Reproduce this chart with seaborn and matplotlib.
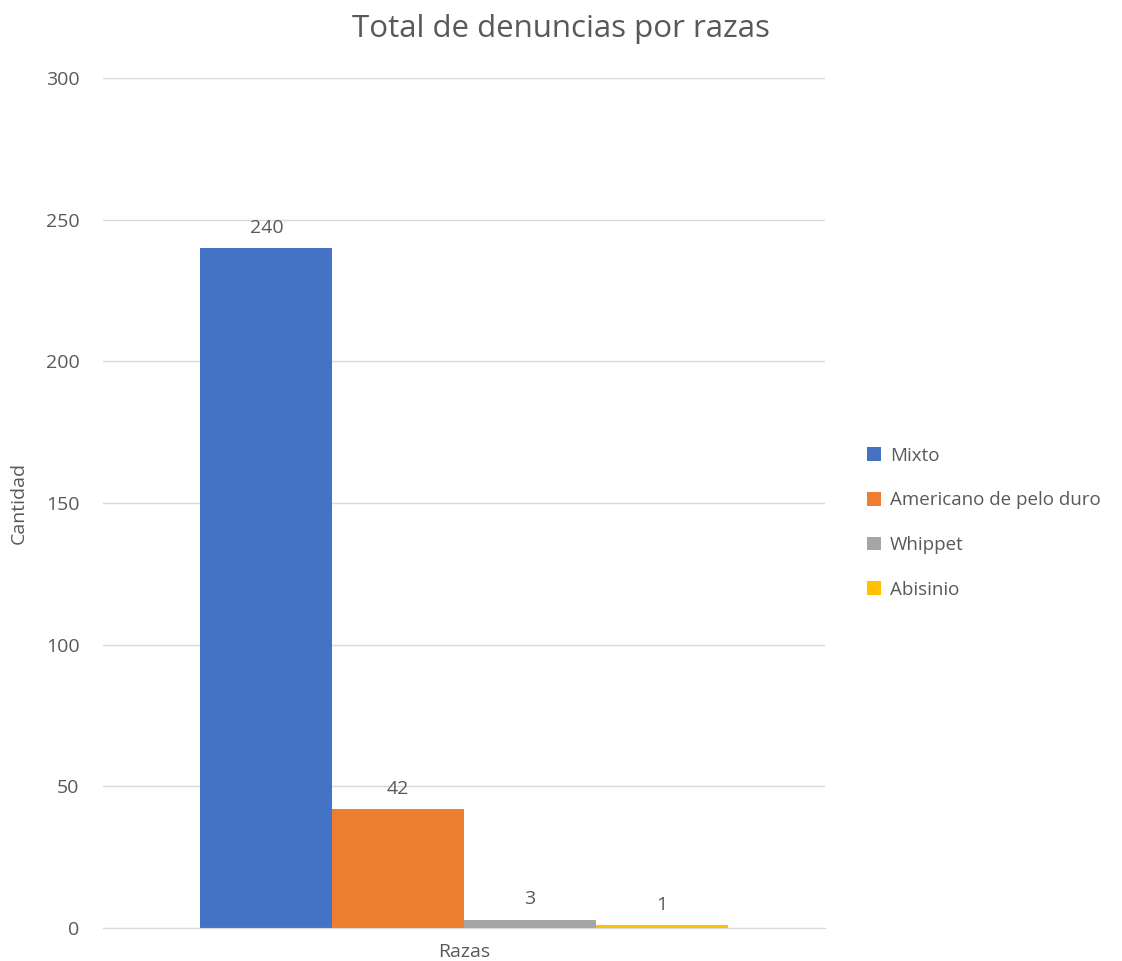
import pandas as pd
import matplotlib
matplotlib.use('Agg')
import matplotlib.pyplot as plt
import seaborn as sns
from matplotlib.patches import Patch

categoria = ['Razas']
razas = ['Mixto', 'Americano de pelo duro', 'Whippet', 'Abisinio']
cantidades = [240, 42, 3, 1]
colores = ['#4472C4', '#ED7D31', '#A5A5A5', '#FFC000']

df = pd.DataFrame({'Categoria': categoria * len(razas), 'Raza': razas, 'Cantidad': cantidades})

sns.set_style('white')
plt.rcParams['font.family'] = ['Open Sans', 'DejaVu Sans']
gris = '#595959'

fig = plt.figure(figsize=(11.22, 9.61), dpi=100)
ax = fig.add_axes([0.0918, 0.0343, 0.6435, 0.8845])

sns.barplot(data=df, x='Categoria', y='Cantidad', hue='Raza', palette=colores,
            width=0.73, gap=0, saturation=1, legend=False, linewidth=0, ax=ax)

for cont in ax.containers:
    ax.bar_label(cont, padding=8, fontsize=14, color=gris)

ax.set_xlim(-0.5, 0.5)
ax.set_ylim(0, 300)
ax.set_yticks([0, 50, 100, 150, 200, 250, 300])
ax.grid(axis='y', color='#D9D9D9', linewidth=1)
ax.set_axisbelow(True)
for s in ['top', 'right', 'left']:
    ax.spines[s].set_visible(False)
ax.spines['bottom'].set_color('#D9D9D9')
ax.tick_params(axis='both', length=0, labelsize=14, colors=gris)
ax.tick_params(axis='y', pad=17)
ax.tick_params(axis='x', pad=11)
ax.set_xlabel('')
ax.set_ylabel('Cantidad', fontsize=14, color=gris)
ax.yaxis.set_label_coords(-0.104, 0.5)

fig.suptitle('Total de denuncias por razas', fontsize=22.5, color=gris, y=0.985)

handles = [Patch(facecolor=c, edgecolor='none') for c in colores]
fig.legend(handles, razas, loc='center left', bbox_to_anchor=(0.758, 0.456),
           frameon=False, fontsize=13.5, labelcolor=gris, handlelength=0.75,
           handleheight=0.75, handletextpad=0.45, labelspacing=1.42)

fig.savefig('out.png', dpi=100)
